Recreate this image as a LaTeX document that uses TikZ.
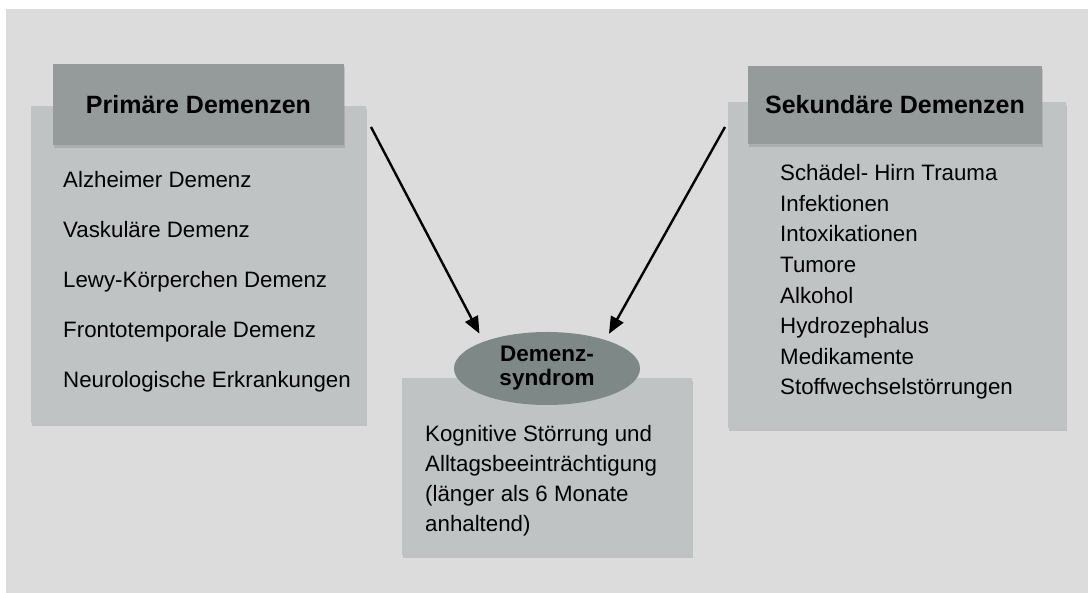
\documentclass[tikz,border=0pt]{standalone}
\usepackage{fontspec}
\setmainfont{Liberation Sans}
\usetikzlibrary{arrows.meta,shapes.geometric,shadows}

\definecolor{bgcol}{HTML}{DCDCDC}
\definecolor{boxcol}{HTML}{C0C3C4}
\definecolor{headcol}{HTML}{959A9A}
\definecolor{ovalcol}{HTML}{7E8987}

\begin{document}
\begin{tikzpicture}[
	x=1pt, y=1pt,
	box/.style={ fill=boxcol, inner sep=0pt, drop shadow={shadow xshift=0.5pt, shadow yshift=-3pt, opacity=0.3} },
	boxhead/.style={ fill=headcol, inner sep=0pt, font=\fontsize{25}{28}\selectfont\bfseries,
		drop shadow={shadow xshift=0.5pt, shadow yshift=-3pt, opacity=0.3} },
	entry/.style={ anchor=base west, inner sep=0pt, font=\fontsize{22.3}{26}\selectfont },
	syndrom/.style={ ellipse, fill=ovalcol, inner sep=0pt, minimum width=186pt, minimum height=73pt,
		align=center, font=\fontsize{22.5}{24}\selectfont\bfseries },
	flow/.style={ line width=2.4pt, -{Triangle[length=17pt,width=14pt]} }
]
\useasboundingbox (0,0) rectangle (1088,593);
\fill[white] (0,0) rectangle (1088,593);
\fill[bgcol] (6,0) rectangle (1088,584);

% primary dementia
\node (pbox) at (198.5,328.5) [box, minimum width=335pt, minimum height=317pt] {};
\node (phead) at (198.5,488.5) [boxhead, minimum width=291pt, minimum height=81pt] {Primäre Demenzen};
\foreach \t [count=\i] in {Alzheimer Demenz, Vaskuläre Demenz, Lewy-Körperchen Demenz,
	Frontotemporale Demenz, Neurologische Erkrankungen}
	\node (p\i) at (63,{405-50*(\i-1)}) [entry] {\t};

% secondary dementia
\node (sbox) at (897,328) [box, minimum width=338pt, minimum height=326pt] {};
\node (shead) at (895,488) [boxhead, minimum width=294pt, minimum height=78pt] {Sekundäre Demenzen};
\foreach \t [count=\i] in {Schädel- Hirn Trauma, Infektionen, Intoxikationen, Tumore,
	Alkohol, Hydrozephalus, Medikamente, Stoffwechselstörrungen}
	\node (s\i) at (780,{412.3-30.6*(\i-1)}) [entry] {\t};

% syndrome
\node (mbox) at (547,126.5) [box, minimum width=290pt, minimum height=177pt] {};
\node (syn) at (547,224.5) [syndrom] {Demenz-\\syndrom};
\foreach \t [count=\i] in {{Kognitive Störrung und}, {Alltagsbeeinträchtigung},
	{(länger als 6 Monate}, {anhaltend)}}
	\node (m\i) at (425,{151.3-30*(\i-1)}) [entry] {\t};

% arrows
\coordinate (pstart) at (371,466);
\coordinate (sstart) at (725,466);
\draw[flow, shorten >=9pt] (pstart) to (syn.157);
\draw[flow, shorten >=7pt] (sstart) to (syn.26.5);

\end{tikzpicture}
\end{document}
